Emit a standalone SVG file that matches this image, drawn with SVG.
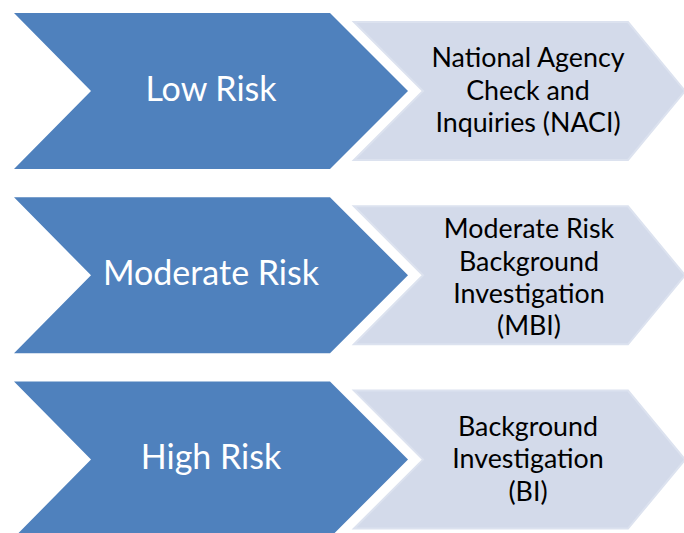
<svg xmlns="http://www.w3.org/2000/svg" width="684" height="533" viewBox="0 0 684 533">
  <style>
    .main { fill: #4F81BD; }
    .sub { fill: #D3DAEA; stroke: #DCE2EF; stroke-width: 2; stroke-linejoin: miter; }
    .lt { font-family: Lato, "Liberation Sans", sans-serif; font-size: 34px; fill: #FFFFFF; text-anchor: middle; }
    .rt { font-family: Lato, "Liberation Sans", sans-serif; font-size: 26.8px; fill: #000000; text-anchor: middle; }
  </style>
  <rect width="684" height="533" fill="#FFFFFF"/>
  <g id="connectors"></g>
  <g id="low-risk">
    <polygon class="main" points="14,13 330,13 408,91 330,169 14,169 91,91"/>
    <text class="lt" x="211" y="100.7">Low Risk</text>
  </g>
  <g id="naci">
    <polygon class="sub" points="354,22 628,22 685,91 628,160 354,160 423,91"/>
    <text class="rt" x="528" y="67.3">National Agency</text>
    <text class="rt" x="528" y="99.6">Check and</text>
    <text class="rt" x="528" y="131.9">Inquiries (NACI)</text>
  </g>
  <g id="moderate-risk">
    <polygon class="main" points="14,197.3 330,197.3 408,275.3 330,353.3 14,353.3 91,275.3"/>
    <text class="lt" x="211" y="285">Moderate Risk</text>
  </g>
  <g id="mbi">
    <polygon class="sub" points="354,206.3 628,206.3 685,275.3 628,344.3 354,344.3 423,275.3"/>
    <text class="rt" x="529" y="238.3">Moderate Risk</text>
    <text class="rt" x="529" y="270.6">Background</text>
    <text class="rt" x="529" y="302.9">Investigation</text>
    <text class="rt" x="529" y="335.2">(MBI)</text>
  </g>
  <g id="high-risk">
    <polygon class="main" points="14,381.6 330,381.6 408,459.6 330,537.6 14,537.6 91,459.6"/>
    <text class="lt" x="211" y="469.3">High Risk</text>
  </g>
  <g id="bi">
    <polygon class="sub" points="354,390.6 628,390.6 685,459.6 628,528.6 354,528.6 423,459.6"/>
    <text class="rt" x="528" y="435.9">Background</text>
    <text class="rt" x="528" y="468.2">Investigation</text>
    <text class="rt" x="528" y="500.5">(BI)</text>
  </g>
</svg>
